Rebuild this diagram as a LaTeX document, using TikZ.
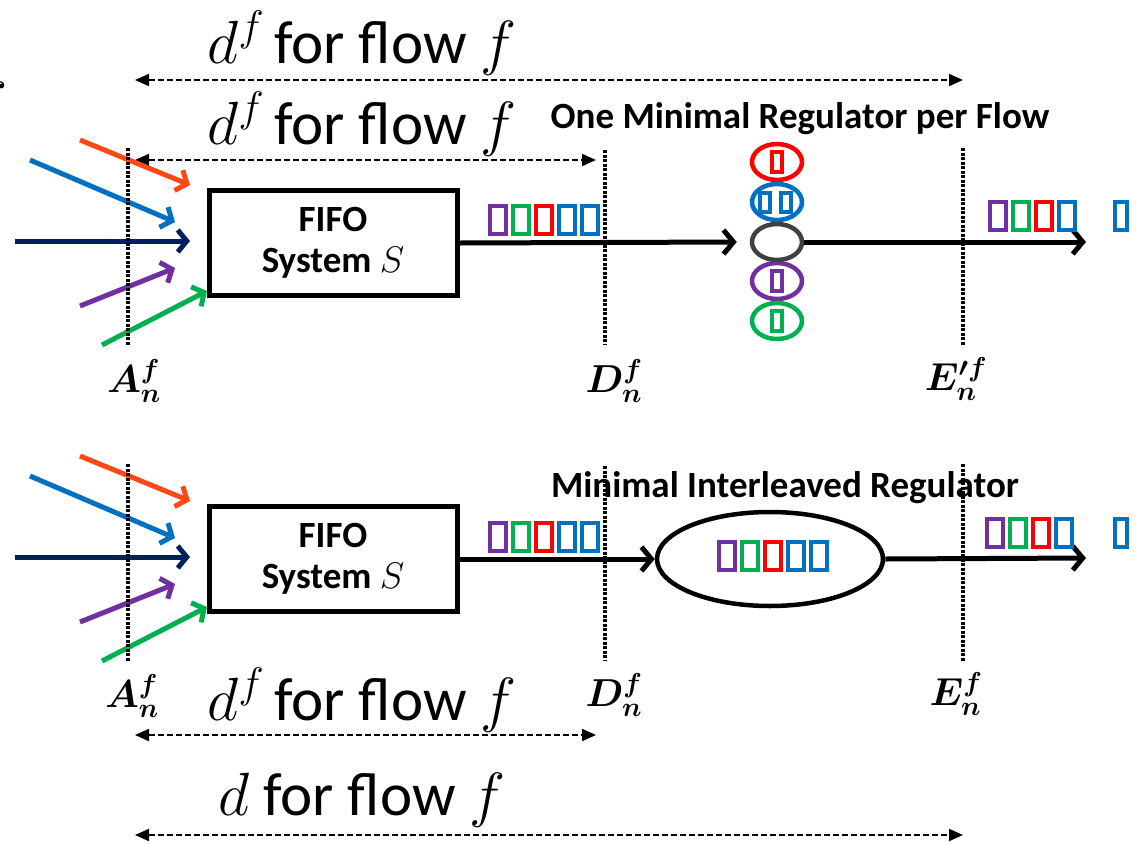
\RequirePackage{fix-cm}
\documentclass[tikz,border=0pt]{standalone}
\usepackage{amsmath,amssymb}
\usepackage{bm}
\usepackage{fontspec}
\setmainfont{Carlito}
\usetikzlibrary{arrows.meta,positioning,calc,shapes.geometric}
\definecolor{flowred}{RGB}{255,72,20}
\definecolor{flowblue}{RGB}{0,112,192}
\definecolor{flownavy}{RGB}{0,32,96}
\definecolor{flowpurple}{RGB}{112,48,160}
\definecolor{flowgreen}{RGB}{0,176,80}
\definecolor{pktred}{RGB}{255,0,0}
\definecolor{idlegray}{RGB}{64,64,64}
\newcommand{\pkts}[3]{\foreach \c [count=\i from 0] in {#3}
  \draw[pkt, draw=\c] ({#1+2+23*\i},{#2+2}) rectangle ++(15.5,27.5);}

\begin{document}
\begin{tikzpicture}[x=1pt, y=-1pt,
  fifo/.style={draw, line width=5pt, minimum width=248pt, minimum height=105pt,
    align=center, font=\bfseries\fontsize{37}{41}\selectfont},
  reg/.style={ellipse, draw, line width=4.5pt, minimum width=50pt, minimum height=36pt, inner sep=0pt},
  feed/.style={line width=5pt, -{Straight Barb[length=9pt,width=22pt]}},
  exit/.style={line width=5pt, -{Straight Barb[length=10pt,width=24pt]}},
  tickline/.style={line width=4.5pt, dash pattern=on 3pt off 1.5pt},
  span/.style={{Triangle[length=14pt,width=12pt]}-{Triangle[length=14pt,width=12pt]},
    line width=2pt, dash pattern=on 6pt off 3pt},
  big/.style={anchor=base, font=\fontsize{61}{63}\selectfont},
  note/.style={anchor=base, font=\bfseries\fontsize{37}{40}\selectfont},
  ptlab/.style={font=\fontsize{39}{41}\selectfont},
  pkt/.style={line width=4pt}
]
\useasboundingbox (0,0) rectangle (1141,844);

% delay labels and spans
\node[big, anchor=base west, inner sep=0pt] (fcut) at (-29,124) {$f$};
\node[big] (dtop) at (362,63) {$d^f$\,for flow $f$};
\node[big] (dmid) at (362,144) {$d^f$\,for flow $f$};
\node[big] (dlow) at (362,720) {$d^f$\,for flow $f$};
\node[big] (dall) at (362,815) {$d$ for flow $f$};
\coordinate (s1a) at (135,80);  \coordinate (s1b) at (963,80);
\coordinate (s2a) at (135,160); \coordinate (s2b) at (596,160);
\coordinate (s3a) at (135,735); \coordinate (s3b) at (596,735);
\coordinate (s4a) at (135,835); \coordinate (s4b) at (963,835);
\draw[span] (s1a) -- (s1b);
\draw[span] (s2a) -- (s2b);
\draw[span] (s3a) -- (s3b);
\draw[span] (s4a) -- (s4b);

% the two FIFO systems with their arrivals
\node[fifo] (sys1) at (333,243) {FIFO\\System $S$};
\node[fifo] (sys2) at (333,559) {FIFO\\System $S$};
\foreach \dy in {0,316} {
  \draw[feed, flowred] (80,{140+\dy}) -- (190,{185+\dy});
  \draw[feed, flowblue] (30,{160+\dy}) -- (175,{222+\dy});
  \draw[feed, flownavy] (15,{241+\dy}) -- (190,{241+\dy});
  \draw[feed, flowpurple] (80,{306+\dy}) -- (175,{268+\dy});
  \draw[feed, flowgreen] (102,{345+\dy}) -- (207,{291+\dy});
  \draw[tickline] (128,{148+\dy}) -- (128,{345+\dy});
  \draw[tickline] (605,{150+\dy}) -- (605,{345+\dy});
  \draw[tickline] (963,{148+\dy}) -- (963,{345+\dy});
}
\node[ptlab] (lA1) at (134,381) {$\bm{A_n^f}$};
\node[ptlab] (lD1) at (614,381) {$\bm{D_n^f}$};
\node[ptlab] (lE1) at (956,379) {$\bm{E_n^{\prime f}}$};
\node[ptlab] (lA2) at (132,696) {$\bm{A_n^f}$};
\node[ptlab] (lD2) at (614,695) {$\bm{D_n^f}$};
\node[ptlab] (lE2) at (956,694) {$\bm{E_n^f}$};

% one minimal regulator per flow
\node[note] (note1) at (800,128) {One Minimal Regulator per Flow};
\node[reg, draw=pktred] (rred) at (777,162) {};
\node[reg, draw=flowblue] (rblue) at (777,202) {};
\node[reg, draw=flowpurple] (rpurple) at (777,281) {};
\node[reg, draw=flowgreen] (rgreen) at (777,321) {};
\node[reg, draw=idlegray, fill=white] (rg0) at (777,242) {};
\draw[pkt, draw=pktred] ($(rred)+(-5,-10)$) rectangle ++(10,20);
\draw[pkt, draw=flowblue] ($(rblue)+(-17,-9)$) rectangle ++(10,19);
\draw[pkt, draw=flowblue] ($(rblue)+(4,-9)$) rectangle ++(10,19);
\draw[pkt, draw=flowpurple] ($(rpurple)+(-5,-10)$) rectangle ++(10,20);
\draw[pkt, draw=flowgreen] ($(rgreen)+(-5,-10)$) rectangle ++(10,20);
\coordinate (out1) at (1086,242);
\draw[exit] (sys1.east) -- ([xshift=-13pt]rg0.west);
\draw[exit] (rg0.east) -- (out1);
\pkts{488}{204}{flowpurple,flowgreen,pktred,flowblue,flowblue}
\pkts{988}{200}{flowpurple,flowgreen,pktred,flowblue}
\draw[pkt, draw=flowblue] (1115,202) rectangle ++(11.5,27.5);

% minimal interleaved regulator
\node[note] (note2) at (785,497) {Minimal Interleaved Regulator};
\node[ellipse, draw, line width=4.5pt, minimum width=226pt, minimum height=94pt] (reg) at (770,559) {};
\coordinate (out2) at (1086,558);
\draw[exit] (sys2.east) -- (reg.west);
\draw[exit] (reg.east) -- (out2);
\pkts{488}{521}{flowpurple,flowgreen,pktred,flowblue,flowblue}
\pkts{717}{540}{flowpurple,flowgreen,pktred,flowblue,flowblue}
\pkts{985}{517}{flowpurple,flowgreen,pktred,flowblue}
\draw[pkt, draw=flowblue] (1115,519) rectangle ++(11.5,27.5);
\end{tikzpicture}
\end{document}
